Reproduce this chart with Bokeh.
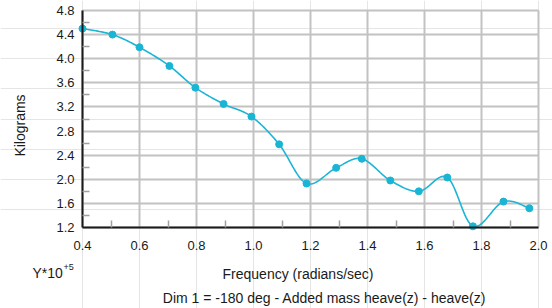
import numpy as np
from bokeh.plotting import figure
from bokeh.models import Range1d, FixedTicker, CustomJSTickFormatter, LinearAxis, Grid, Label
from bokeh.embed import file_html
from bokeh.resources import INLINE

freq = [0.40, 0.505, 0.60, 0.705, 0.796, 0.895, 0.993, 1.09, 1.186, 1.29, 1.38, 1.48, 1.58, 1.68, 1.77, 1.877, 1.968]
kg = [4.50, 4.40, 4.19, 3.88, 3.52, 3.25, 3.04, 2.58, 1.93, 2.19, 2.34, 1.98, 1.80, 2.03, 1.22, 1.63, 1.52]
x_ticks = [0.4, 0.6, 0.8, 1.0, 1.2, 1.4, 1.6, 1.8, 2.0]
y_ticks = [1.2, 1.6, 2.0, 2.4, 2.8, 3.2, 3.6, 4.0, 4.4, 4.8]
x_minor = [0.5, 0.7, 0.9, 1.1, 1.3, 1.5, 1.7, 1.9]
y_minor = [1.4, 1.8, 2.2, 2.6, 3.0, 3.4, 3.8, 4.2, 4.6]
y_title = "Kilograms"
x_title = "Frequency (radians/sec)"
scale_note = "Y*10"
scale_exp = "+5"
caption = "Dim 1 = -180 deg - Added mass heave(z) - heave(z)"

FONT = "Liberation Sans"
COL = "#1ab5d5"
TXT = "#1a1a1a"
GRID = "#c2c2c2"

# canvas layout (pixels): plot box left/right/top/bottom
W, H = 552, 308
L, R, T, B = 82, 538, 10, 227
x0, x1 = x_ticks[0], x_ticks[-1]
y0, y1 = y_ticks[0], y_ticks[-1]
kx = (R - L) / (x1 - x0)
ky = (B - T) / (y1 - y0)
xr = Range1d(x0 - L / kx, x1 + (W - R) / kx)
yr = Range1d(y0 - (H - B) / ky, y1 + T / ky)

def catmull(xs, ys, n=20):
    pts = np.column_stack([xs, ys])
    out = []
    for i in range(len(pts) - 1):
        p0 = pts[max(i - 1, 0)]
        p1 = pts[i]
        p2 = pts[i + 1]
        p3 = pts[min(i + 2, len(pts) - 1)]
        for t in np.linspace(0, 1, n, endpoint=False):
            t2, t3 = t * t, t * t * t
            out.append(0.5 * ((2 * p1) + (-p0 + p2) * t + (2 * p0 - 5 * p1 + 4 * p2 - p3) * t2 + (-p0 + 3 * p1 - 3 * p2 + p3) * t3))
    out.append(pts[-1])
    out = np.array(out)
    return out[:, 0], out[:, 1]

p = figure(width=W, height=H, output_backend="svg", toolbar_location=None,
           x_range=xr, y_range=yr, x_axis_location=None, y_axis_location=None,
           min_border=0, min_border_left=0, min_border_right=0, min_border_top=0, min_border_bottom=0)
p.outline_line_color = None
p.background_fill_color = "white"
p.border_fill_color = "white"

xt = FixedTicker(ticks=x_ticks, minor_ticks=x_minor)
yt = FixedTicker(ticks=y_ticks, minor_ticks=y_minor)

try:
    gx = Grid(dimension=0, ticker=xt, cross_bounds=(y0, y1))
    gy = Grid(dimension=1, ticker=yt, cross_bounds=(x0, x1))
    for g in (gx, gy):
        g.grid_line_color = GRID
        g.grid_line_width = 2
        p.add_layout(g)
except Exception:
    p.segment(x0=x_ticks, y0=[y0] * len(x_ticks), x1=x_ticks, y1=[y1] * len(x_ticks), line_color=GRID, line_width=2)
    p.segment(x0=[x0] * len(y_ticks), y0=y_ticks, x1=[x1] * len(y_ticks), y1=y_ticks, line_color=GRID, line_width=2)

xaxis = LinearAxis(ticker=xt, fixed_location=y0, bounds=(x0, x1))
yaxis = LinearAxis(ticker=yt, fixed_location=x0, bounds=(y0, y1))
for ax in (xaxis, yaxis):
    ax.axis_line_color = TXT
    ax.axis_line_width = 2
    ax.major_tick_in = 0
    ax.major_tick_out = 0
    ax.minor_tick_in = 7
    ax.minor_tick_out = 0
    ax.minor_tick_line_color = "#a0a0a0"
    ax.minor_tick_line_width = 1.5
    ax.major_label_text_font = FONT
    ax.major_label_text_font_size = "13px"
    ax.major_label_text_color = TXT
    ax.formatter = CustomJSTickFormatter(code="return tick.toFixed(1);")
xaxis.major_label_standoff = 13
yaxis.major_label_standoff = 8

# smooth curve, kept inside the plot box like the original's clipping
sx, sy = catmull(freq, kg)
sy = np.clip(sy, y0, y1)
p.line(sx, sy, line_color=COL, line_width=1.6)
p.scatter(freq, kg, size=7, fill_color=COL, line_color=COL)

p.add_layout(xaxis, "below")
p.add_layout(yaxis, "left")

def lab(text, x, y, size, align="left", angle=0.0):
    p.add_layout(Label(x=x, y=H - y, x_units="screen", y_units="screen", text=text,
                       text_font=FONT, text_font_size=size, text_color=TXT,
                       text_align=align, text_baseline="middle", angle=angle))

lab(y_title, 19, 125, "14px", "center", np.pi / 2)
lab(scale_note, 32, 272, "14px")
lab(scale_exp, 63, 266, "9px")
lab(x_title, 297.5, 273, "14px", "center")
lab(caption, 324, 297.5, "14px", "center")

open("out.html", "w").write(file_html(p, INLINE))
